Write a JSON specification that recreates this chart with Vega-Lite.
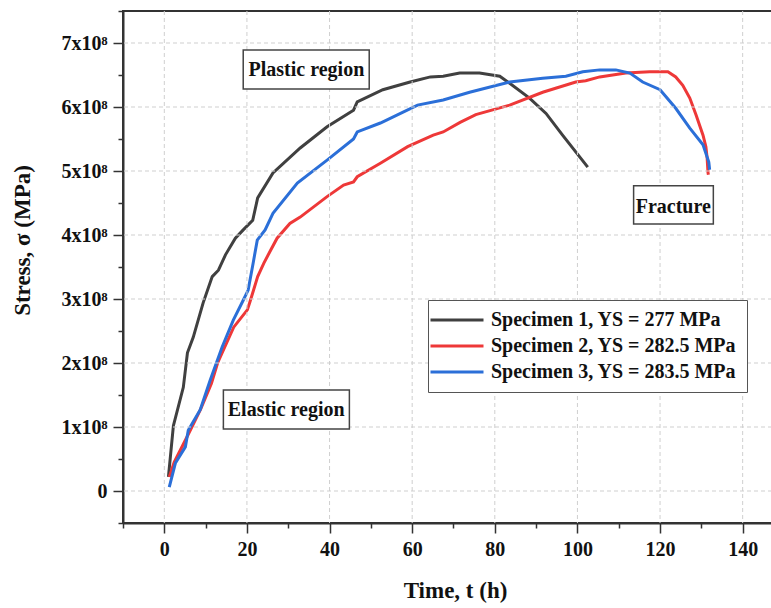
{
  "$schema": "https://vega.github.io/schema/vega-lite/v6.json",
  "width": 649,
  "height": 512,
  "autosize": {"type": "none"},
  "padding": {"left": 123, "top": 11, "right": 0, "bottom": 85},
  "background": "white",
  "config": {
    "view": {"stroke": "#333333", "strokeWidth": 2},
    "font": "Liberation Serif",
    "axis": {
      "grid": false,
      "domainColor": "#333333",
      "domainWidth": 2,
      "tickColor": "#333333",
      "tickWidth": 1.5,
      "labelFont": "Liberation Serif",
      "labelFontWeight": "bold",
      "labelFontSize": 20,
      "labelColor": "#111111",
      "titleFont": "Liberation Serif",
      "titleFontWeight": "bold",
      "titleFontSize": 23,
      "titleColor": "#111111"
    }
  },
  "datasets": {
    "xgrid": [{"time": 0}, {"time": 20}, {"time": 40}, {"time": 60}, {"time": 80}, {"time": 100}, {"time": 120}, {"time": 140}],
    "ygrid": [{"stress": 0}, {"stress": 100000000}, {"stress": 200000000}, {"stress": 300000000}, {"stress": 400000000}, {"stress": 500000000}, {"stress": 600000000}, {"stress": 700000000}],
    "curves": [
      {"specimen": "Specimen 1, YS = 277 MPa", "time": 1.0, "stress": 0.22e8},
      {"specimen": "Specimen 1, YS = 277 MPa", "time": 2.2, "stress": 1.02e8},
      {"specimen": "Specimen 1, YS = 277 MPa", "time": 4.6, "stress": 1.62e8},
      {"specimen": "Specimen 1, YS = 277 MPa", "time": 5.6, "stress": 2.16e8},
      {"specimen": "Specimen 1, YS = 277 MPa", "time": 7.0, "stress": 2.4e8},
      {"specimen": "Specimen 1, YS = 277 MPa", "time": 9.4, "stress": 2.94e8},
      {"specimen": "Specimen 1, YS = 277 MPa", "time": 11.6, "stress": 3.35e8},
      {"specimen": "Specimen 1, YS = 277 MPa", "time": 13.1, "stress": 3.45e8},
      {"specimen": "Specimen 1, YS = 277 MPa", "time": 14.8, "stress": 3.69e8},
      {"specimen": "Specimen 1, YS = 277 MPa", "time": 17.2, "stress": 3.95e8},
      {"specimen": "Specimen 1, YS = 277 MPa", "time": 19.1, "stress": 4.08e8},
      {"specimen": "Specimen 1, YS = 277 MPa", "time": 21.4, "stress": 4.23e8},
      {"specimen": "Specimen 1, YS = 277 MPa", "time": 22.6, "stress": 4.58e8},
      {"specimen": "Specimen 1, YS = 277 MPa", "time": 26.3, "stress": 4.97e8},
      {"specimen": "Specimen 1, YS = 277 MPa", "time": 32.9, "stress": 5.36e8},
      {"specimen": "Specimen 1, YS = 277 MPa", "time": 39.4, "stress": 5.69e8},
      {"specimen": "Specimen 1, YS = 277 MPa", "time": 45.8, "stress": 5.95e8},
      {"specimen": "Specimen 1, YS = 277 MPa", "time": 46.7, "stress": 6.08e8},
      {"specimen": "Specimen 1, YS = 277 MPa", "time": 52.9, "stress": 6.27e8},
      {"specimen": "Specimen 1, YS = 277 MPa", "time": 59.5, "stress": 6.39e8},
      {"specimen": "Specimen 1, YS = 277 MPa", "time": 64.4, "stress": 6.47e8},
      {"specimen": "Specimen 1, YS = 277 MPa", "time": 67.5, "stress": 6.48e8},
      {"specimen": "Specimen 1, YS = 277 MPa", "time": 71.5, "stress": 6.53e8},
      {"specimen": "Specimen 1, YS = 277 MPa", "time": 76.3, "stress": 6.53e8},
      {"specimen": "Specimen 1, YS = 277 MPa", "time": 81.2, "stress": 6.48e8},
      {"specimen": "Specimen 1, YS = 277 MPa", "time": 83.6, "stress": 6.37e8},
      {"specimen": "Specimen 1, YS = 277 MPa", "time": 88.4, "stress": 6.14e8},
      {"specimen": "Specimen 1, YS = 277 MPa", "time": 92.4, "stress": 5.9e8},
      {"specimen": "Specimen 1, YS = 277 MPa", "time": 96.4, "stress": 5.56e8},
      {"specimen": "Specimen 1, YS = 277 MPa", "time": 102.5, "stress": 5.06e8},

      {"specimen": "Specimen 2, YS = 282.5 MPa", "time": 1.2, "stress": 0.22e8},
      {"specimen": "Specimen 2, YS = 282.5 MPa", "time": 2.4, "stress": 0.45e8},
      {"specimen": "Specimen 2, YS = 282.5 MPa", "time": 5.3, "stress": 0.82e8},
      {"specimen": "Specimen 2, YS = 282.5 MPa", "time": 8.8, "stress": 1.28e8},
      {"specimen": "Specimen 2, YS = 282.5 MPa", "time": 11.4, "stress": 1.68e8},
      {"specimen": "Specimen 2, YS = 282.5 MPa", "time": 12.9, "stress": 2.0e8},
      {"specimen": "Specimen 2, YS = 282.5 MPa", "time": 16.8, "stress": 2.56e8},
      {"specimen": "Specimen 2, YS = 282.5 MPa", "time": 20.1, "stress": 2.83e8},
      {"specimen": "Specimen 2, YS = 282.5 MPa", "time": 20.7, "stress": 2.95e8},
      {"specimen": "Specimen 2, YS = 282.5 MPa", "time": 22.6, "stress": 3.35e8},
      {"specimen": "Specimen 2, YS = 282.5 MPa", "time": 24.1, "stress": 3.56e8},
      {"specimen": "Specimen 2, YS = 282.5 MPa", "time": 25.8, "stress": 3.77e8},
      {"specimen": "Specimen 2, YS = 282.5 MPa", "time": 27.3, "stress": 3.95e8},
      {"specimen": "Specimen 2, YS = 282.5 MPa", "time": 30.4, "stress": 4.18e8},
      {"specimen": "Specimen 2, YS = 282.5 MPa", "time": 32.9, "stress": 4.28e8},
      {"specimen": "Specimen 2, YS = 282.5 MPa", "time": 39.4, "stress": 4.6e8},
      {"specimen": "Specimen 2, YS = 282.5 MPa", "time": 43.4, "stress": 4.78e8},
      {"specimen": "Specimen 2, YS = 282.5 MPa", "time": 45.8, "stress": 4.83e8},
      {"specimen": "Specimen 2, YS = 282.5 MPa", "time": 46.7, "stress": 4.91e8},
      {"specimen": "Specimen 2, YS = 282.5 MPa", "time": 52.3, "stress": 5.12e8},
      {"specimen": "Specimen 2, YS = 282.5 MPa", "time": 58.9, "stress": 5.38e8},
      {"specimen": "Specimen 2, YS = 282.5 MPa", "time": 65.1, "stress": 5.56e8},
      {"specimen": "Specimen 2, YS = 282.5 MPa", "time": 67.5, "stress": 5.61e8},
      {"specimen": "Specimen 2, YS = 282.5 MPa", "time": 71.6, "stress": 5.76e8},
      {"specimen": "Specimen 2, YS = 282.5 MPa", "time": 75.4, "stress": 5.88e8},
      {"specimen": "Specimen 2, YS = 282.5 MPa", "time": 83.6, "stress": 6.03e8},
      {"specimen": "Specimen 2, YS = 282.5 MPa", "time": 91.6, "stress": 6.23e8},
      {"specimen": "Specimen 2, YS = 282.5 MPa", "time": 99.6, "stress": 6.39e8},
      {"specimen": "Specimen 2, YS = 282.5 MPa", "time": 102.0, "stress": 6.41e8},
      {"specimen": "Specimen 2, YS = 282.5 MPa", "time": 105.4, "stress": 6.47e8},
      {"specimen": "Specimen 2, YS = 282.5 MPa", "time": 111.7, "stress": 6.53e8},
      {"specimen": "Specimen 2, YS = 282.5 MPa", "time": 117.5, "stress": 6.55e8},
      {"specimen": "Specimen 2, YS = 282.5 MPa", "time": 121.9, "stress": 6.55e8},
      {"specimen": "Specimen 2, YS = 282.5 MPa", "time": 123.8, "stress": 6.47e8},
      {"specimen": "Specimen 2, YS = 282.5 MPa", "time": 125.5, "stress": 6.34e8},
      {"specimen": "Specimen 2, YS = 282.5 MPa", "time": 127.2, "stress": 6.14e8},
      {"specimen": "Specimen 2, YS = 282.5 MPa", "time": 128.7, "stress": 5.88e8},
      {"specimen": "Specimen 2, YS = 282.5 MPa", "time": 130.4, "stress": 5.56e8},
      {"specimen": "Specimen 2, YS = 282.5 MPa", "time": 131.1, "stress": 5.38e8},
      {"specimen": "Specimen 2, YS = 282.5 MPa", "time": 131.4, "stress": 5.2e8},
      {"specimen": "Specimen 2, YS = 282.5 MPa", "time": 131.6, "stress": 4.98e8},
      {"specimen": "Specimen 2, YS = 282.5 MPa", "time": 131.7, "stress": 4.94e8},

      {"specimen": "Specimen 3, YS = 283.5 MPa", "time": 1.2, "stress": 0.06e8},
      {"specimen": "Specimen 3, YS = 283.5 MPa", "time": 2.7, "stress": 0.44e8},
      {"specimen": "Specimen 3, YS = 283.5 MPa", "time": 5.1, "stress": 0.69e8},
      {"specimen": "Specimen 3, YS = 283.5 MPa", "time": 5.8, "stress": 0.95e8},
      {"specimen": "Specimen 3, YS = 283.5 MPa", "time": 8.7, "stress": 1.27e8},
      {"specimen": "Specimen 3, YS = 283.5 MPa", "time": 11.1, "stress": 1.73e8},
      {"specimen": "Specimen 3, YS = 283.5 MPa", "time": 14.0, "stress": 2.25e8},
      {"specimen": "Specimen 3, YS = 283.5 MPa", "time": 16.7, "stress": 2.67e8},
      {"specimen": "Specimen 3, YS = 283.5 MPa", "time": 19.1, "stress": 2.98e8},
      {"specimen": "Specimen 3, YS = 283.5 MPa", "time": 20.3, "stress": 3.14e8},
      {"specimen": "Specimen 3, YS = 283.5 MPa", "time": 21.5, "stress": 3.56e8},
      {"specimen": "Specimen 3, YS = 283.5 MPa", "time": 22.5, "stress": 3.92e8},
      {"specimen": "Specimen 3, YS = 283.5 MPa", "time": 24.4, "stress": 4.08e8},
      {"specimen": "Specimen 3, YS = 283.5 MPa", "time": 26.3, "stress": 4.34e8},
      {"specimen": "Specimen 3, YS = 283.5 MPa", "time": 32.2, "stress": 4.81e8},
      {"specimen": "Specimen 3, YS = 283.5 MPa", "time": 39.4, "stress": 5.17e8},
      {"specimen": "Specimen 3, YS = 283.5 MPa", "time": 45.8, "stress": 5.5e8},
      {"specimen": "Specimen 3, YS = 283.5 MPa", "time": 46.7, "stress": 5.61e8},
      {"specimen": "Specimen 3, YS = 283.5 MPa", "time": 52.3, "stress": 5.75e8},
      {"specimen": "Specimen 3, YS = 283.5 MPa", "time": 57.8, "stress": 5.92e8},
      {"specimen": "Specimen 3, YS = 283.5 MPa", "time": 61.3, "stress": 6.03e8},
      {"specimen": "Specimen 3, YS = 283.5 MPa", "time": 67.5, "stress": 6.11e8},
      {"specimen": "Specimen 3, YS = 283.5 MPa", "time": 73.9, "stress": 6.23e8},
      {"specimen": "Specimen 3, YS = 283.5 MPa", "time": 83.6, "stress": 6.39e8},
      {"specimen": "Specimen 3, YS = 283.5 MPa", "time": 91.6, "stress": 6.45e8},
      {"specimen": "Specimen 3, YS = 283.5 MPa", "time": 97.2, "stress": 6.48e8},
      {"specimen": "Specimen 3, YS = 283.5 MPa", "time": 101.3, "stress": 6.55e8},
      {"specimen": "Specimen 3, YS = 283.5 MPa", "time": 105.4, "stress": 6.58e8},
      {"specimen": "Specimen 3, YS = 283.5 MPa", "time": 109.3, "stress": 6.58e8},
      {"specimen": "Specimen 3, YS = 283.5 MPa", "time": 112.7, "stress": 6.53e8},
      {"specimen": "Specimen 3, YS = 283.5 MPa", "time": 115.8, "stress": 6.39e8},
      {"specimen": "Specimen 3, YS = 283.5 MPa", "time": 120.0, "stress": 6.27e8},
      {"specimen": "Specimen 3, YS = 283.5 MPa", "time": 123.8, "stress": 5.98e8},
      {"specimen": "Specimen 3, YS = 283.5 MPa", "time": 127.2, "stress": 5.67e8},
      {"specimen": "Specimen 3, YS = 283.5 MPa", "time": 130.4, "stress": 5.41e8},
      {"specimen": "Specimen 3, YS = 283.5 MPa", "time": 131.8, "stress": 5.14e8},
      {"specimen": "Specimen 3, YS = 283.5 MPa", "time": 132.0, "stress": 5.02e8}
    ],
    "notes": [
      {"label": "Plastic region", "x1": 19.1, "x2": 49.6, "y1": 6.89e8, "y2": 6.28e8, "tx": 34.4, "ty": 6.58e8},
      {"label": "Fracture", "x1": 113.6, "x2": 132.9, "y1": 4.77e8, "y2": 4.17e8, "tx": 123.2, "ty": 4.44e8},
      {"label": "Elastic region", "x1": 14.3, "x2": 44.8, "y1": 1.58e8, "y2": 0.97e8, "tx": 29.5, "ty": 1.27e8}
    ]
  },
  "layer": [
    {
      "data": {"name": "curves"},
      "mark": {"type": "line", "strokeWidth": 3, "clip": true},
      "encoding": {
        "x": {
          "field": "time",
          "type": "quantitative",
          "scale": {"domain": [-10, 147.1], "nice": false, "zero": false},
          "axis": {
            "grid": false,
            "title": "Time, t (h)",
            "values": [-10, 0, 10, 20, 30, 40, 50, 60, 70, 80, 90, 100, 110, 120, 130, 140],
            "tickCount": 50,
            "labelExpr": "datum.value % 20 != 0 ? '' : datum.label",
            "tickSize": {"condition": {"test": "datum.value % 20 != 0", "value": 5}, "value": 10},
            "labelPadding": 6,
            "labelFlush": false,
            "titleX": 332,
            "titleY": 67,
            "titleBaseline": "middle"
          }
        },
        "y": {
          "field": "stress",
          "type": "quantitative",
          "scale": {"domain": [-50000000, 750000000], "nice": false, "zero": false},
          "axis": {
            "grid": false,
            "title": "Stress, σ (MPa)",
            "values": [-50000000, 0, 50000000, 100000000, 150000000, 200000000, 250000000, 300000000, 350000000, 400000000, 450000000, 500000000, 550000000, 600000000, 650000000, 700000000, 750000000],
            "tickCount": 50,
            "labelExpr": "datum.value % 100000000 != 0 ? '' : (datum.value == 0 ? '0' : format(datum.value / 100000000, 'd') + 'x10⁸')",
            "tickSize": {"condition": {"test": "datum.value % 100000000 != 0", "value": 5}, "value": 10},
            "labelPadding": 6,
            "labelFlush": false,
            "titleX": -101,
            "titleY": 229,
            "titleBaseline": "middle",
            "titleAlign": "center",
            "titleAngle": -90
          }
        },
        "color": {
          "field": "specimen",
          "type": "nominal",
          "scale": {
            "domain": ["Specimen 1, YS = 277 MPa", "Specimen 2, YS = 282.5 MPa", "Specimen 3, YS = 283.5 MPa"],
            "range": ["#404040", "#ee3838", "#2b6fd8"]
          },
          "legend": {
            "title": null,
            "orient": "none",
            "legendX": 305,
            "legendY": 289,
            "symbolType": "M-5.3,0H5.3",
            "symbolSize": 100,
            "symbolStrokeWidth": 3,
            "symbolOffset": 9,
            "labelFont": "Liberation Serif",
            "labelFontSize": 20,
            "labelFontWeight": "bold",
            "labelColor": "#111111",
            "labelLimit": 400,
            "labelOffset": 24,
            "strokeColor": "#555555",
            "fillColor": "white",
            "padding": 10,
            "rowPadding": 6
          }
        }
      }
    },
    {
      "data": {"name": "xgrid"},
      "mark": {"type": "rule", "stroke": "#cfcfcf", "strokeWidth": 1, "strokeDash": [4, 3]},
      "encoding": {
        "x": {"field": "time", "type": "quantitative"}
      }
    },
    {
      "data": {"name": "ygrid"},
      "mark": {"type": "rule", "stroke": "#cfcfcf", "strokeWidth": 1, "strokeDash": [4, 3]},
      "encoding": {
        "y": {"field": "stress", "type": "quantitative"}
      }
    },
    {
      "data": {"name": "notes"},
      "mark": {"type": "rect", "fill": "white", "stroke": "#444444", "strokeWidth": 1.5},
      "encoding": {
        "x": {"field": "x1", "type": "quantitative"},
        "x2": {"field": "x2"},
        "y": {"field": "y1", "type": "quantitative"},
        "y2": {"field": "y2"}
      }
    },
    {
      "data": {"name": "notes"},
      "mark": {"type": "text", "font": "Liberation Serif", "fontSize": 20, "fontWeight": "bold", "color": "#111111", "baseline": "middle", "align": "center"},
      "encoding": {
        "x": {"field": "tx", "type": "quantitative"},
        "y": {"field": "ty", "type": "quantitative"},
        "text": {"field": "label"}
      }
    }
  ]
}
